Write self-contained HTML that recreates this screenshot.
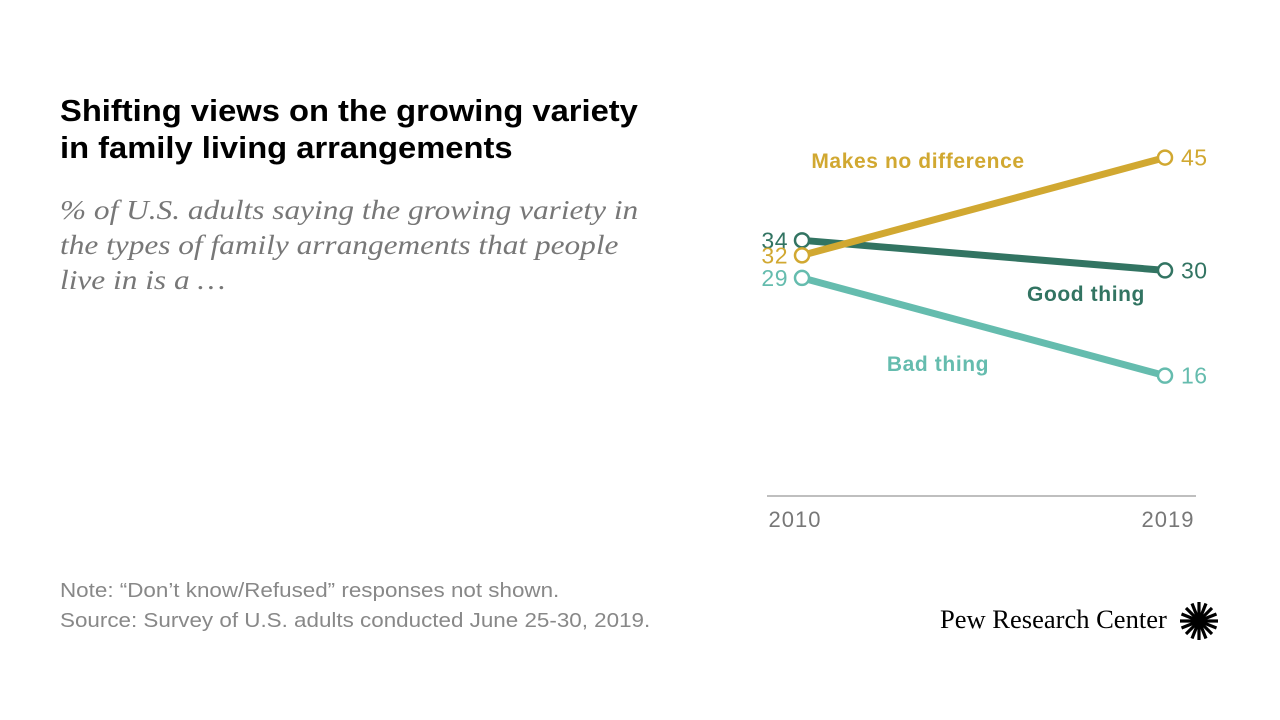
<!DOCTYPE html>
<html><head><meta charset="utf-8"><style>
body{margin:0;width:1280px;height:720px;background:#fff;font-family:"Liberation Sans",sans-serif;position:relative;overflow:hidden}
.t{position:absolute;transform-origin:0 0;white-space:nowrap}
</style></head><body>
<div class="t" style="left:60px;top:92px;font-size:31px;font-weight:bold;line-height:37px;color:#000;transform:scaleX(1.055)">Shifting views on the growing variety<br>in family living arrangements</div>
<div class="t" style="left:60px;top:193px;font-family:'Liberation Serif',serif;font-style:italic;font-size:27px;line-height:35px;color:#777;transform:scaleX(1.16)">% of U.S. adults saying the growing variety in<br>the types of family arrangements that people<br>live in is a …</div>
<div class="t" style="left:60px;top:576px;font-size:20px;line-height:30px;color:#888;transform:scaleX(1.12)">Note: “Don’t know/Refused” responses not shown.<br>Source: Survey of U.S. adults conducted June 25-30, 2019.</div>
<div class="t" style="left:940px;top:605px;font-family:'Liberation Serif',serif;font-size:26px;color:#000;transform:scaleX(1.02)">Pew Research Center</div>
<svg class="t" style="left:1178px;top:600px" width="42" height="42" viewBox="-21 -21 42 42">
<g stroke="#000" stroke-width="3.2"><line x1="-19" y1="0" x2="19" y2="0"/><line x1="0" y1="-19" x2="0" y2="19"/><line x1="-13" y1="-13" x2="13" y2="13"/><line x1="-13" y1="13" x2="13" y2="-13"/><line x1="-17.5" y1="-7" x2="17.5" y2="7"/><line x1="-17.5" y1="7" x2="17.5" y2="-7"/><line x1="-7" y1="-17.5" x2="7" y2="17.5"/><line x1="7" y1="-17.5" x2="-7" y2="17.5"/></g><circle r="4" fill="#000"/></svg>
<svg id="chart" class="t" style="left:0;top:0" width="1280" height="720"></svg>
<script>
const years=["2010","2019"];
const goodThing=[34,30];
const badThing=[29,16];
const noDiff=[32,45];
const NS="http://www.w3.org/2000/svg";
const svg=document.getElementById('chart');
const x=i=>802+i*363;
const y=v=>496-v*7.52;
function mk(t,a){const e=document.createElementNS(NS,t);for(const k in a)e.setAttribute(k,a[k]);svg.appendChild(e);return e;}
const axis=mk('line',{x1:767,x2:1196,y1:496,y2:496,stroke:'#aaa','stroke-width':1.5});


years.forEach((yr,i)=>{const t=mk('text',{x:i?1168:795,y:527,'text-anchor':'middle','font-size':22,'letter-spacing':1,fill:'#777','font-family':'Liberation Sans'});t.textContent=yr;

});
const series=[
 {d:badThing,c:'#65bcae',n:'bad-thing',lab:'Bad thing',lx:938,ly:371},
 {d:goodThing,c:'#327462',n:'good-thing',lab:'Good thing',lx:1086,ly:301},
 {d:noDiff,c:'#d1a831',n:'makes-no-difference',lab:'Makes no difference',lx:918,ly:168}];
series.forEach(s=>{
 const l=mk('line',{x1:x(0),y1:y(s.d[0]),x2:x(1),y2:y(s.d[1]),stroke:s.c,'stroke-width':7});
 
 
 s.d.forEach((v,i)=>{
  const c=mk('circle',{cx:x(i),cy:y(v),r:7,fill:'#fff',stroke:s.c,'stroke-width':2.5});
  
  
  const t=mk('text',{x:i?x(i)+16:x(i)-14,y:y(v)+8,'text-anchor':i?'start':'end','font-size':23,'letter-spacing':0.5,fill:s.c,'font-family':'Liberation Sans'});
  t.textContent=v;
  
  
 });
 const t=mk('text',{x:s.lx,y:s.ly,'text-anchor':'middle','font-size':21,'letter-spacing':0.6,'font-weight':'bold',fill:s.c,'font-family':'Liberation Sans'});
 t.textContent=s.lab;
 
 
});
</script>
</body></html>
